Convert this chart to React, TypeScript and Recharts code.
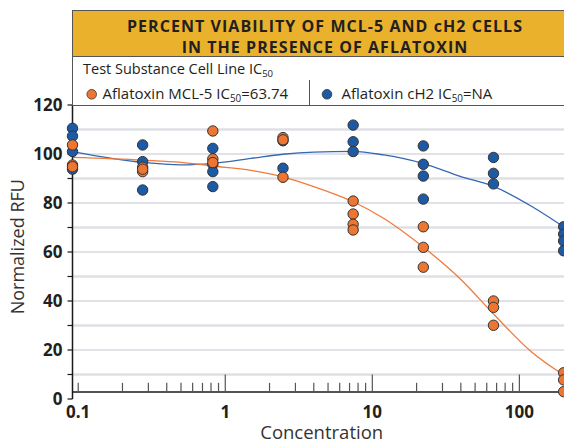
import React from 'react';
import { ComposedChart, XAxis, YAxis, Scatter, Line, ReferenceLine } from 'recharts';

// Concentrations (3-fold dilution series)
const CONCENTRATIONS = [0.09145, 0.2743, 0.823, 2.469, 7.407, 22.22, 66.67, 200];
const X_DOMAIN = [0.09145, 260];

// Replicate Normalized RFU readings, per concentration
const MCL5_REPLICATES = [
  [103.7, 95.5, 94.8],
  [94.6, 92.8, 93.8],
  [109.4, 98, 96.5],
  [106.7, 90.5, 105.8],
  [80.8, 75.5, 71.3, 69],
  [70.3, 61.9, 53.8],
  [40, 37.4, 30.1],
  [10.7, 7.8, 3],
];
const CH2_REPLICATES = [
  [110.5, 107.3, 101, 93.8],
  [103.7, 96.9, 85.3],
  [102.3, 95.8, 92.8, 86.7],
  [105.4, 94.2],
  [111.8, 105, 101],
  [103.3, 95.8, 91, 81.6],
  [98.6, 92.1, 87.8],
  [70.3, 67.3, 64.5, 60.5],
];

// Fitted curves
const FIT_CONC = [0.09145, 0.2743, 0.5, 0.823, 1.5, 2.469, 4, 7.407, 12, 22.22, 40, 66.67, 120, 200];
const MCL5_FIT = [98.6, 97.5, 96.6, 95.1, 93.3, 90.7, 86.7, 80.5, 73.7, 62, 48.8, 34.7, 19.4, 9.8];
const CH2_FIT = [101, 96.6, 95.6, 96.2, 98.2, 99.9, 100.8, 101.1, 99.6, 96.1, 90.8, 86.8, 78.8, 70.3];

const X_TICK_LABELS = [0.1, 1, 10, 100];
const X_MAJOR_MARKS = [1, 10, 100];
const X_MINOR_MARKS = [0.1, 0.2, 0.3, 0.4, 0.5, 0.6, 0.7, 0.8, 0.9, 2, 3, 4, 5, 6, 7, 8, 9, 20, 30, 40, 50, 60, 70, 80, 90];
const Y_TICKS = [0, 10, 20, 30, 40, 50, 60, 70, 80, 90, 100, 110, 120];
const GRID_MAJOR = [20, 40, 60, 80, 100];
const GRID_MINOR = [10, 30, 50, 70, 90, 110];
const X_AXIS_AT = 2.9;
const MAJOR_MARK_TOP = 10;
const MINOR_MARK_TOP = 6.6;

const ORANGE = '#EE7633';
const BLUE = '#1D5AA5';
const FONT = '"Open Sans", "DejaVu Sans", sans-serif';

const toPoints = (reps: number[][]) =>
  reps.flatMap((vals, i) => vals.map((y) => ({ x: CONCENTRATIONS[i], y })));
const mcl5Points = toPoints(MCL5_REPLICATES);
const ch2Points = toPoints(CH2_REPLICATES);
const mcl5Fit = FIT_CONC.map((x, i) => ({ x, y: MCL5_FIT[i] }));
const ch2Fit = FIT_CONC.map((x, i) => ({ x, y: CH2_FIT[i] }));

const dot = (fill: string) => (props: any) => (
  <circle cx={props.cx} cy={props.cy} r={5.2} fill={fill} stroke="#333" strokeWidth={1} />
);

const Sub = ({ children }: { children: React.ReactNode }) => (
  <span style={{ fontSize: '0.66em', position: 'relative', top: '0.28em' }}>{children}</span>
);

export default function App() {
  return (
    <div style={{ position: 'fixed', left: 0, top: 0, width: 564, height: 444, overflow: 'hidden', background: '#fff', fontFamily: FONT }}>
      <ComposedChart width={620} height={444} margin={{ top: 105, right: 39.6, bottom: 0, left: 0 }}>
        <XAxis
          dataKey="x"
          type="number"
          scale="log"
          domain={X_DOMAIN}
          ticks={X_TICK_LABELS}
          interval={0}
          tickFormatter={(v: number) => String(v)}
          axisLine={false}
          tickLine={false}
          tickSize={0}
          tickMargin={7}
          height={45}
          tick={{ fontSize: 17, fontWeight: 700, fill: '#231f20', fontFamily: FONT }}
        />
        <YAxis
          dataKey="y"
          type="number"
          domain={[0, 120]}
          ticks={Y_TICKS}
          interval={0}
          width={72.5}
          tickFormatter={(v: number) => (v % 20 === 0 ? String(v) : '')}
          tickSize={5}
          tickMargin={5}
          axisLine={{ stroke: '#1a1a1a', strokeWidth: 1.5 }}
          tickLine={{ stroke: '#1a1a1a', strokeWidth: 1.2 }}
          tick={{ fontSize: 17, fontWeight: 700, fill: '#231f20', fontFamily: FONT }}
        />
        {GRID_MINOR.map((v) => (
          <ReferenceLine key={'gm' + v} y={v} stroke="#dfe0e6" strokeWidth={2.5} />
        ))}
        {GRID_MAJOR.map((v) => (
          <ReferenceLine key={'gM' + v} y={v} stroke="#c4c6d0" strokeWidth={1.2} />
        ))}
        <ReferenceLine y={X_AXIS_AT} stroke="#1a1a1a" strokeWidth={1.5} />
        {X_MINOR_MARKS.map((v) => (
          <ReferenceLine key={'xm' + v} segment={[{ x: v, y: X_AXIS_AT }, { x: v, y: MINOR_MARK_TOP }]} stroke="#555" strokeWidth={1.2} />
        ))}
        {X_MAJOR_MARKS.map((v) => (
          <ReferenceLine key={'xM' + v} segment={[{ x: v, y: X_AXIS_AT }, { x: v, y: MAJOR_MARK_TOP }]} stroke="#555" strokeWidth={1.2} />
        ))}
        <Line data={ch2Fit} dataKey="y" type="monotone" stroke="#3468B2" strokeWidth={1.3} dot={false} isAnimationActive={false} />
        <Line data={mcl5Fit} dataKey="y" type="monotone" stroke="#F07A3A" strokeWidth={1.3} dot={false} isAnimationActive={false} />
        <Scatter data={ch2Points} dataKey="y" shape={dot(BLUE)} isAnimationActive={false} />
        <Scatter data={mcl5Points} dataKey="y" shape={dot(ORANGE)} isAnimationActive={false} />
      </ComposedChart>

      {/* Title box */}
      <div style={{ position: 'absolute', left: 72, top: 10, width: 504, height: 46, background: '#EAB12C', borderTop: '1px solid #555', borderLeft: '1px solid #555', boxSizing: 'border-box' }}>
        <div style={{ position: 'absolute', left: 0, width: 504, top: 5, textAlign: 'center', fontSize: 16, fontWeight: 700, letterSpacing: 1.05, lineHeight: '21px', color: '#231f20' }}>
          PERCENT VIABILITY OF MCL-5 AND cH2 CELLS<br />IN THE PRESENCE OF AFLATOXIN
        </div>
      </div>
      <div style={{ position: 'absolute', left: 72, top: 56, width: 504, height: 25, background: '#fff', borderTop: '1px solid #555', borderLeft: '1px solid #555', borderBottom: '1px solid #555', boxSizing: 'border-box' }}>
        <div style={{ position: 'absolute', left: 10, top: 2, fontSize: 14.5, lineHeight: '20px', color: '#231f20' }}>
          Test Substance Cell Line IC<Sub>50</Sub>
        </div>
      </div>
      <div style={{ position: 'absolute', left: 72, top: 80, width: 504, height: 26, background: '#fff', borderLeft: '1px solid #555', borderBottom: '1px solid #555', boxSizing: 'border-box' }}>
        <div style={{ position: 'absolute', left: 236, top: 0, width: 1, height: 25, background: '#555' }} />
        <svg style={{ position: 'absolute', left: 0, top: 0 }} width={504} height={25}>
          <circle cx={18.7} cy={14.3} r={4.8} fill={ORANGE} stroke="#333" strokeWidth={0.8} />
          <circle cx={254} cy={14.3} r={4.8} fill={BLUE} stroke="#333" strokeWidth={0.8} />
        </svg>
        <div style={{ position: 'absolute', left: 29.5, top: 3, fontSize: 15, lineHeight: '20px', color: '#231f20', whiteSpace: 'nowrap' }}>
          Aflatoxin MCL-5 IC<Sub>50</Sub>=63.74
        </div>
        <div style={{ position: 'absolute', left: 268.5, top: 3, fontSize: 15, lineHeight: '20px', color: '#231f20', whiteSpace: 'nowrap' }}>
          Aflatoxin cH2 IC<Sub>50</Sub>=NA
        </div>
      </div>

      {/* Axis titles */}
      <svg style={{ position: 'absolute', left: 0, top: 0, pointerEvents: 'none' }} width={564} height={444}>
        <text x={321.7} y={438.5} textAnchor="middle" fontSize={18.5} fill="#333" fontFamily={FONT}>
          Concentration
        </text>
        <text x={24.5} y={246.7} textAnchor="middle" fontSize={18} fill="#333" fontFamily={FONT} transform="rotate(-90, 24.5, 246.7)">
          Normalized RFU
        </text>
      </svg>
    </div>
  );
}
